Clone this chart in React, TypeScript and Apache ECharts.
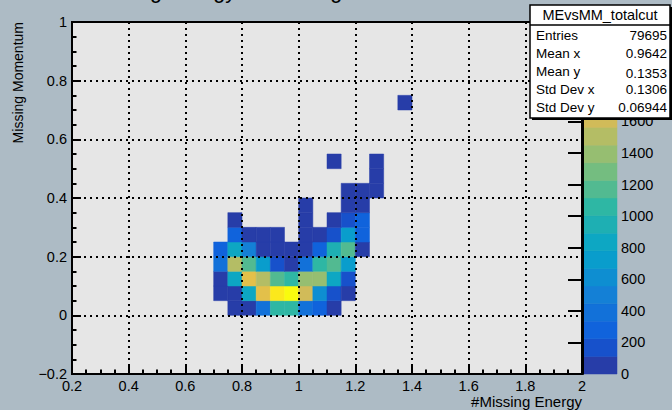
import React, { useEffect, useRef } from 'react';
import * as echarts from 'echarts';

const FONT = '"Liberation Sans", Arial, Helvetica, sans-serif';

// ---- data ----
const BIN = 0.05;
const xBinStarts = [0.7, 0.75, 0.8, 0.85, 0.9, 0.95, 1.0, 1.05, 1.1, 1.15, 1.2, 1.25, 1.3, 1.35];
const yBinStarts = [0.0, 0.05, 0.1, 0.15, 0.2, 0.25, 0.3, 0.35, 0.4, 0.45, 0.5, 0.55, 0.6, 0.65, 0.7];

const row000 = [0, 70, 90, 430, 1040, 1010, 420, 250, 80, 0, 0, 0, 0, 0];
const row005 = [60, 100, 820, 1720, 2060, 2225, 1610, 620, 190, 70, 0, 0, 0, 0];
const row010 = [80, 840, 1730, 1500, 1160, 1040, 1380, 1390, 820, 180, 0, 0, 0, 0];
const row015 = [380, 1480, 1140, 720, 190, 90, 420, 1050, 1170, 700, 0, 0, 0, 0];
const row020 = [280, 850, 490, 80, 60, 50, 70, 290, 950, 1130, 60, 0, 0, 0];
const row025 = [0, 270, 70, 60, 50, 0, 60, 80, 200, 760, 270, 0, 0, 0];
const row030 = [0, 60, 0, 0, 0, 0, 50, 0, 70, 200, 300, 0, 0, 0];
const row035 = [0, 0, 0, 0, 0, 0, 40, 0, 0, 50, 60, 0, 0, 0];
const row040 = [0, 0, 0, 0, 0, 0, 0, 0, 0, 50, 60, 40, 0, 0];
const row045 = [0, 0, 0, 0, 0, 0, 0, 0, 0, 0, 0, 50, 0, 0];
const row050 = [0, 0, 0, 0, 0, 0, 0, 0, 40, 0, 0, 40, 0, 0];
const row055 = [0, 0, 0, 0, 0, 0, 0, 0, 0, 0, 0, 0, 0, 0];
const row060 = [0, 0, 0, 0, 0, 0, 0, 0, 0, 0, 0, 0, 0, 0];
const row065 = [0, 0, 0, 0, 0, 0, 0, 0, 0, 0, 0, 0, 0, 0];
const row070 = [0, 0, 0, 0, 0, 0, 0, 0, 0, 0, 0, 0, 0, 40];
const counts = [row000, row005, row010, row015, row020, row025, row030, row035, row040, row045, row050, row055, row060, row065, row070];

const ZMAX = 2230;
const N_CONTOURS = 20;
const zTickStep = 200;
const zLabelMax = 1600; // higher palette labels are hidden under the stats box

const histTitle = 'Missing Energy vs Missing Momentum';
const xTitle = '#Missing Energy';
const yTitle = 'Missing Momentum';
const statsTitle = 'MEvsMM_totalcut';
const statsLabels = ['Entries', 'Mean x', 'Mean y', 'Std Dev x', 'Std Dev y'];
const statsValues = ['79695', '0.9642', '0.1353', '0.1306', '0.06944'];

// ---- kBird palette ----
const BIRD_STOPS = [0, 0.125, 0.25, 0.375, 0.5, 0.625, 0.75, 0.875, 1];
const BIRD_R = [0.2082, 0.0592, 0.078, 0.0232, 0.1802, 0.5301, 0.8186, 0.9956, 0.9764];
const BIRD_G = [0.1664, 0.3599, 0.5041, 0.6419, 0.7178, 0.7492, 0.7328, 0.7862, 0.9832];
const BIRD_B = [0.5293, 0.8684, 0.8385, 0.7914, 0.6425, 0.4662, 0.3499, 0.1968, 0.0539];

function bird(t: number): string {
  let k = 0;
  while (k < BIRD_STOPS.length - 2 && t > BIRD_STOPS[k + 1]) k++;
  const f = (t - BIRD_STOPS[k]) / (BIRD_STOPS[k + 1] - BIRD_STOPS[k]);
  const c = (a: number[]) => Math.round(255 * (a[k] + (a[k + 1] - a[k]) * f));
  return `rgb(${c(BIRD_R)},${c(BIRD_G)},${c(BIRD_B)})`;
}

const levelColors: string[] = [];
for (let i = 0; i < N_CONTOURS; i++) {
  const idx = Math.floor(((i + 0.99) * 255) / N_CONTOURS);
  levelColors.push(bird(Math.min(1, idx / 254)));
}

export default function App() {
  const ref = useRef<HTMLDivElement>(null);
  useEffect(() => {
    if (!ref.current) return;
    const chart = echarts.init(ref.current, undefined, { renderer: 'svg' });
    const band = ZMAX / N_CONTOURS;

    const heatData: number[][] = [];
    counts.forEach((row, r) => {
      row.forEach((v, c) => {
        if (v > 0) heatData.push([xBinStarts[c], yBinStarts[r], v]);
      });
    });
    const paletteData: number[][] = [];
    for (let i = 0; i < N_CONTOURS; i++) {
      paletteData.push([0, i * band, (i + 1) * band, (i + 0.5) * band]);
    }
    const pieces = levelColors.map((col, i) => ({ min: i * band, max: (i + 1) * band, color: col }));

    const fmt = (v: number) => {
      const r = +v.toFixed(3);
      return r < 0 ? '\u2212' + Math.abs(r) : String(r);
    };

    const SF = `13.5px ${FONT}`;
    const statsEls: any[] = [
      { type: 'rect', shape: { x: 532, y: 7, width: 140, height: 113 }, style: { fill: '#000' }, z: 100 },
      { type: 'rect', shape: { x: 530, y: 5, width: 140, height: 113 }, style: { fill: '#fff', stroke: '#000', lineWidth: 1.5 }, z: 101 },
      { type: 'line', shape: { x1: 530, y1: 25, x2: 670, y2: 25 }, style: { stroke: '#000', lineWidth: 1.5 }, z: 102 },
      { type: 'text', x: 600, y: 15, style: { text: statsTitle, font: `14.5px ${FONT}`, fill: '#000', align: 'center', verticalAlign: 'middle' }, z: 102 },
    ];
    const rowY = [35, 53, 71, 89, 107];
    statsLabels.forEach((lab, i) => {
      statsEls.push({ type: 'text', x: 536, y: rowY[i], style: { text: lab, font: SF, fill: '#000', align: 'left', verticalAlign: 'middle' }, z: 102 });
      statsEls.push({ type: 'text', x: 667, y: rowY[i] + (i === 2 ? 2 : 0), style: { text: statsValues[i], font: SF, fill: '#000', align: 'right', verticalAlign: 'middle' }, z: 102 });
    });

    const option: any = {
      animation: false,
      backgroundColor: '#adbbc5',
      textStyle: { fontFamily: FONT },
      grid: [
        { left: 72, top: 22, width: 510, height: 352, show: true, backgroundColor: '#e6e6e6', borderColor: '#000', borderWidth: 2 },
        { left: 583, top: 22, width: 34, height: 352, show: false },
      ],
      xAxis: [
        {
          gridIndex: 0, type: 'value', min: 0.2, max: 2, interval: 0.2, z: 5,
          axisLine: { show: true, onZero: false, lineStyle: { color: '#000', width: 2 } },
          axisTick: { show: true, inside: true, length: 9, lineStyle: { color: '#000', width: 2 } },
          minorTick: { show: true, splitNumber: 4, length: 4.5, lineStyle: { color: '#000', width: 2 } },
          splitLine: { show: true, lineStyle: { color: '#000', type: [2, 4], width: 2 } },
          axisLabel: { color: '#000', fontSize: 14.5, margin: 4, fontFamily: FONT, formatter: fmt, showMinLabel: true, showMaxLabel: true },
        },
        { gridIndex: 1, type: 'value', min: 0, max: 1, show: false },
      ],
      yAxis: [
        {
          gridIndex: 0, type: 'value', min: -0.2, max: 1, interval: 0.2, z: 5,
          axisLine: { show: true, onZero: false, lineStyle: { color: '#000', width: 2 } },
          axisTick: { show: true, inside: true, length: 9, lineStyle: { color: '#000', width: 2 } },
          minorTick: { show: true, splitNumber: 4, length: 4.5, lineStyle: { color: '#000', width: 2 } },
          splitLine: { show: true, lineStyle: { color: '#000', type: [2, 4], width: 2 } },
          axisLabel: { color: '#000', fontSize: 14.5, margin: 5, fontFamily: FONT, formatter: fmt, showMinLabel: true, showMaxLabel: true },
        },
        {
          gridIndex: 1, type: 'value', position: 'right', min: 0, max: ZMAX, interval: zTickStep, z: 5,
          axisLine: { show: true, lineStyle: { color: '#000', width: 2 } },
          axisTick: { show: true, inside: true, length: 15, lineStyle: { color: '#000', width: 2 } },
          splitLine: { show: false },
          axisLabel: {
            color: '#000', fontSize: 14.5, margin: 4, fontFamily: FONT, showMaxLabel: false,
            formatter: (v: number) => (Math.abs(v % zTickStep) < 1e-6 && v <= zLabelMax ? String(v) : ''),
          },
        },
      ],
      visualMap: [
        { type: 'piecewise', show: false, seriesIndex: 0, dimension: 2, pieces },
        { type: 'piecewise', show: false, seriesIndex: 1, dimension: 3, pieces },
      ],
      series: [
        {
          type: 'custom', xAxisIndex: 0, yAxisIndex: 0, z: 2, data: heatData,
          renderItem: (_p: any, api: any) => {
            const x0 = api.value(0), y0 = api.value(1);
            const a = api.coord([x0, y0 + BIN]);
            const b = api.coord([x0 + BIN, y0]);
            const col = api.visual('color');
            return { type: 'rect', shape: { x: a[0], y: a[1], width: b[0] - a[0], height: b[1] - a[1] }, style: { fill: col, stroke: col, lineWidth: 0.5 } };
          },
        },
        {
          type: 'custom', xAxisIndex: 1, yAxisIndex: 1, z: 2, data: paletteData,
          renderItem: (_p: any, api: any) => {
            const lo = api.value(1), hi = api.value(2);
            const a = api.coord([0, hi]);
            const b = api.coord([1, lo]);
            const col = api.visual('color');
            return { type: 'rect', shape: { x: a[0], y: a[1], width: b[0] - a[0], height: b[1] - a[1] }, style: { fill: col, stroke: col, lineWidth: 0.5 } };
          },
        },
      ],
      graphic: [
        { type: 'text', x: 89, y: -9, style: { text: histTitle, font: `21.5px ${FONT}`, fill: '#000', align: 'left', verticalAlign: 'middle' }, z: 50 },
        { type: 'text', x: 582, y: 401, style: { text: xTitle, font: `15px ${FONT}`, fill: '#000', align: 'right', verticalAlign: 'middle' }, z: 50 },
        { type: 'text', x: 18, y: 22, rotation: Math.PI / 2, style: { text: yTitle, font: `14px ${FONT}`, fill: '#000', align: 'right', verticalAlign: 'middle' }, z: 50 },
        ...statsEls,
      ],
    };
    chart.setOption(option);
    return () => chart.dispose();
  }, []);
  return <div ref={ref} style={{ position: 'fixed', left: 0, top: 0, width: 672, height: 410 }} />;
}
